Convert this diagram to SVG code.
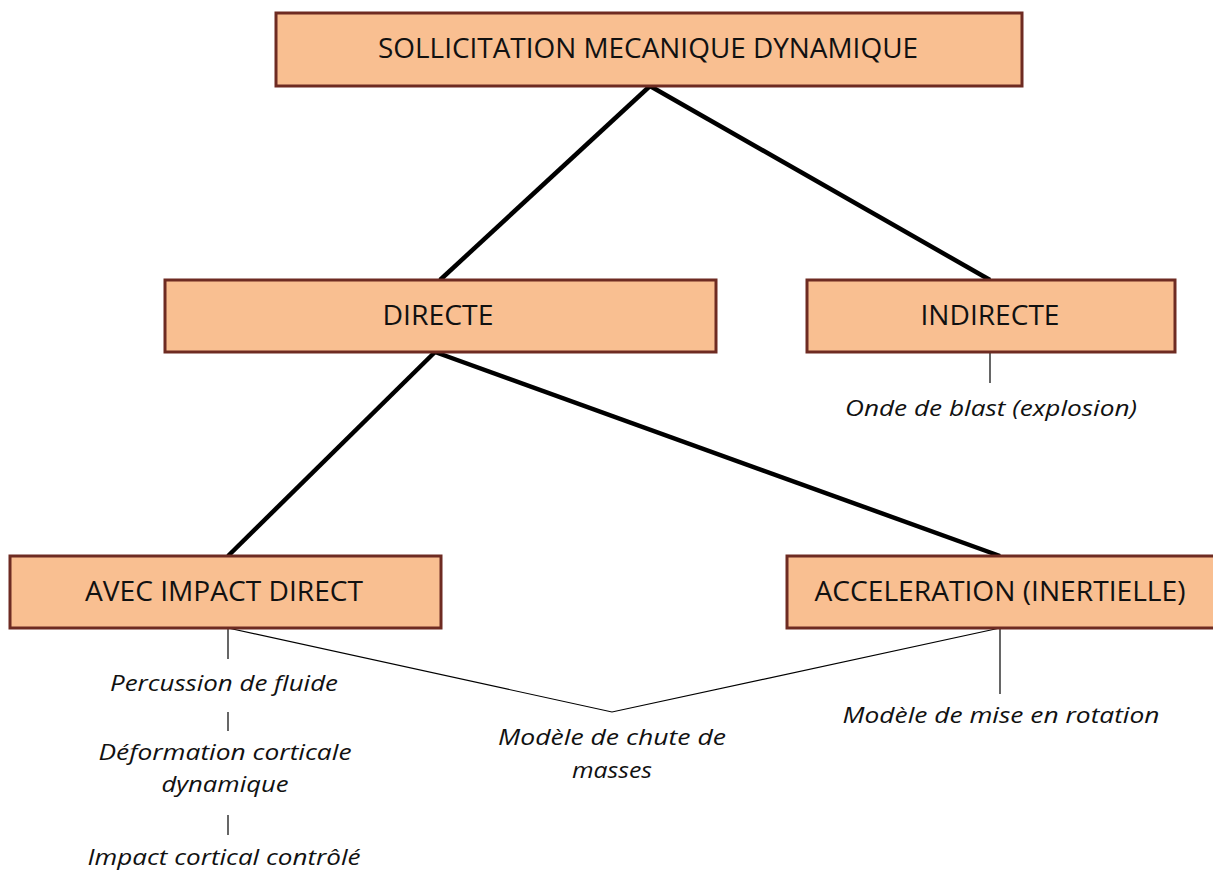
<svg xmlns="http://www.w3.org/2000/svg" width="1213" height="871" viewBox="0 0 1213 871">
<style>
.box{fill:#F9BF91;stroke:#6E2B22;stroke-width:3}
.t{font-family:"Open Sans","Liberation Sans",sans-serif;font-size:27px;fill:#111;text-anchor:middle}
.i{font-family:"Open Sans","Liberation Sans",sans-serif;font-size:22px;font-style:italic;fill:#111;text-anchor:middle}
.thick{stroke:#000;stroke-width:4.5;fill:none}
.thin{stroke:#000;stroke-width:1.2;fill:none}
</style>
<rect width="1213" height="871" fill="#fff"/>
<g id="connectors">
<line class="thick" x1="650" y1="86" x2="440" y2="280"/>
<line class="thick" x1="650" y1="86" x2="990" y2="280"/>
<line class="thick" x1="435" y1="352" x2="228" y2="556"/>
<line class="thick" x1="435" y1="352" x2="1000" y2="556"/>
<line class="thin" x1="990" y1="352" x2="990" y2="383"/>
<line class="thin" x1="228" y1="628" x2="228" y2="659"/>
<line class="thin" x1="228" y1="712" x2="228" y2="731"/>
<line class="thin" x1="228" y1="815" x2="228" y2="835"/>
<polyline class="thin" points="228,628 612,712 1000,628"/>
<line class="thin" x1="1000" y1="628" x2="1000" y2="694"/>
</g>
<g id="n-top">
<rect class="box" x="276" y="13" width="746" height="73"/>
<text class="t" x="648" y="58" textLength="540" lengthAdjust="spacingAndGlyphs">SOLLICITATION MECANIQUE DYNAMIQUE</text>
</g>
<g id="n-directe">
<rect class="box" x="165" y="280" width="551" height="72"/>
<text class="t" x="438" y="325" textLength="111" lengthAdjust="spacingAndGlyphs">DIRECTE</text>
</g>
<g id="n-indirecte">
<rect class="box" x="807" y="280" width="368" height="72"/>
<text class="t" x="990" y="325" textLength="139" lengthAdjust="spacingAndGlyphs">INDIRECTE</text>
</g>
<g id="n-avec">
<rect class="box" x="10" y="556" width="431" height="72"/>
<text class="t" x="224" y="601" textLength="278" lengthAdjust="spacingAndGlyphs">AVEC IMPACT DIRECT</text>
</g>
<g id="n-accel">
<rect class="box" x="787" y="556" width="430" height="72"/>
<text class="t" x="1000" y="601" textLength="371" lengthAdjust="spacingAndGlyphs">ACCELERATION (INERTIELLE)</text>
</g>
<g id="n-blast">
<text class="i" x="991" y="416" textLength="292" lengthAdjust="spacingAndGlyphs">Onde de blast (explosion)</text>
</g>
<g id="n-percussion">
<text class="i" x="224" y="691" textLength="228" lengthAdjust="spacingAndGlyphs">Percussion de fluide</text>
</g>
<g id="n-deformation">
<text class="i" x="225" y="760" textLength="253" lengthAdjust="spacingAndGlyphs">Déformation corticale</text>
<text class="i" x="225" y="792" textLength="127" lengthAdjust="spacingAndGlyphs">dynamique</text>
</g>
<g id="n-impact">
<text class="i" x="224" y="865" textLength="273" lengthAdjust="spacingAndGlyphs">Impact cortical contrôlé</text>
</g>
<g id="n-chute">
<text class="i" x="612" y="745" textLength="228" lengthAdjust="spacingAndGlyphs">Modèle de chute de</text>
<text class="i" x="612" y="778" textLength="80" lengthAdjust="spacingAndGlyphs">masses</text>
</g>
<g id="n-rotation">
<text class="i" x="1001" y="723" textLength="317" lengthAdjust="spacingAndGlyphs">Modèle de mise en rotation</text>
</g>
</svg>
